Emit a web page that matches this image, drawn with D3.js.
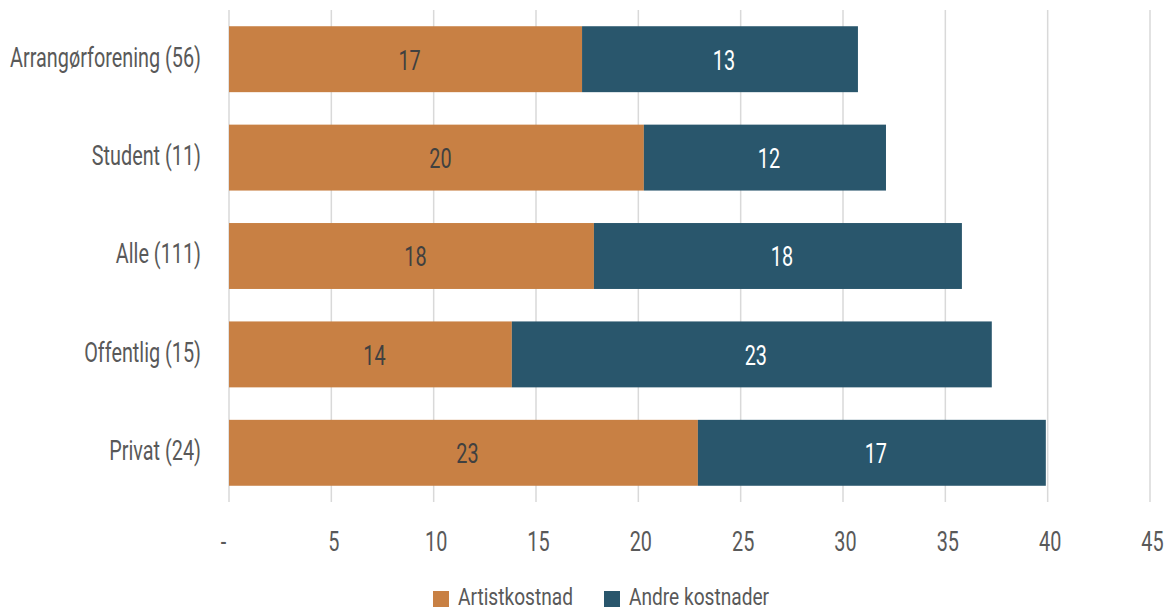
<!DOCTYPE html>
<html><head><meta charset="utf-8">
<script src="https://cdn.jsdelivr.net/npm/d3@7"></script>
<style>
body{margin:0;background:#fff;}
text{font-family:Roboto,"Liberation Sans",sans-serif;}
</style></head>
<body><svg id="c" width="1173" height="612"></svg>
<script>
const categories = ["Arrangørforening (56)","Student (11)","Alle (111)","Offentlig (15)","Privat (24)"];
const artistkostnad = [17.25, 20.27, 17.83, 13.82, 22.91];
const andreKostnader = [13.48, 11.83, 17.98, 23.45, 17.0];
const seriesNames = ["Artistkostnad","Andre kostnader"];
const colors = ["#C88044","#29566C"];
const xTicks = [0,5,10,15,20,25,30,35,40,45];

const FS = 27.5, FSL = 24;
const svg = d3.select("#c");

// horizontal condensing factors to emulate a condensed face
function measure(str, fs){
  const t = svg.append("text").attr("font-size",fs).text(str);
  const w = t.node().getComputedTextLength(); t.remove(); return w;
}
const sx = 191 / measure(categories[0], FS);
const sxL = 115 / measure(seriesNames[0], FSL);

function label(parent, x, y, str, anchor, fill, fs=FS, s=sx, dy="0.36em"){
  return parent.append("text")
    .attr("transform",`translate(${x},${y}) scale(${s},1)`)
    .attr("text-anchor",anchor).attr("dy",dy)
    .attr("font-size",fs).attr("fill",fill).text(str);
}

const x = d3.scaleLinear().domain([0,45]).range([229,1150]);
const y = d3.scaleBand().domain(categories).range([10,502]).paddingInner(0.33).paddingOuter(0.165);

// gridlines
svg.append("g").selectAll("line").data(xTicks).join("line")
  .attr("x1",d=>x(d)).attr("x2",d=>x(d)).attr("y1",10).attr("y2",502)
  .attr("stroke","#d9d9d9").attr("stroke-width",1.5);

const data = categories.map((c,i)=>({c, a:artistkostnad[i], b:andreKostnader[i]}));
const g = svg.append("g");
data.forEach(d=>{
  const cy = y(d.c)+y.bandwidth()/2;
  g.append("rect").attr("x",x(0)).attr("y",y(d.c)).attr("width",x(d.a)-x(0)).attr("height",y.bandwidth()).attr("fill",colors[0]);
  g.append("rect").attr("x",x(d.a)).attr("y",y(d.c)).attr("width",x(d.a+d.b)-x(d.a)).attr("height",y.bandwidth()).attr("fill",colors[1]);
  label(g,(x(0)+x(d.a))/2+4, cy+0.5, Math.round(d.a), "middle", "#404040");
  label(g,(x(d.a)+x(d.a+d.b))/2+4, cy+0.5, Math.round(d.b), "middle", "#ffffff");
});

// y labels
const yl = svg.append("g");
categories.forEach(c=>label(yl, 201, y(c)+y.bandwidth()/2-2.5, c, "end", "#595959"));

// x axis labels
const xAxis = d3.axisBottom(x).tickValues(xTicks).tickSize(0).tickPadding(0).tickFormat(d=>d===0?"-":d);
const ax = svg.append("g").attr("transform","translate(0,541.5)").call(xAxis);
ax.select(".domain").remove();
ax.selectAll("text")
  .attr("font-size",FS).attr("fill","#595959").attr("font-family",null)
  .attr("y",0).attr("dy","0.36em")
  .attr("transform",d=>`translate(${d===0?-6:2},0) scale(${sx},1)`);

// legend
const leg = svg.append("g");
const lx = [433, 604];
seriesNames.forEach((s,i)=>{
  leg.append("rect").attr("x",lx[i]).attr("y",591).attr("width",16).attr("height",16).attr("fill",colors[i]);
  label(leg, lx[i]+25, 605, s, "start", "#595959", FSL, sxL, "0");
});
</script></body></html>
